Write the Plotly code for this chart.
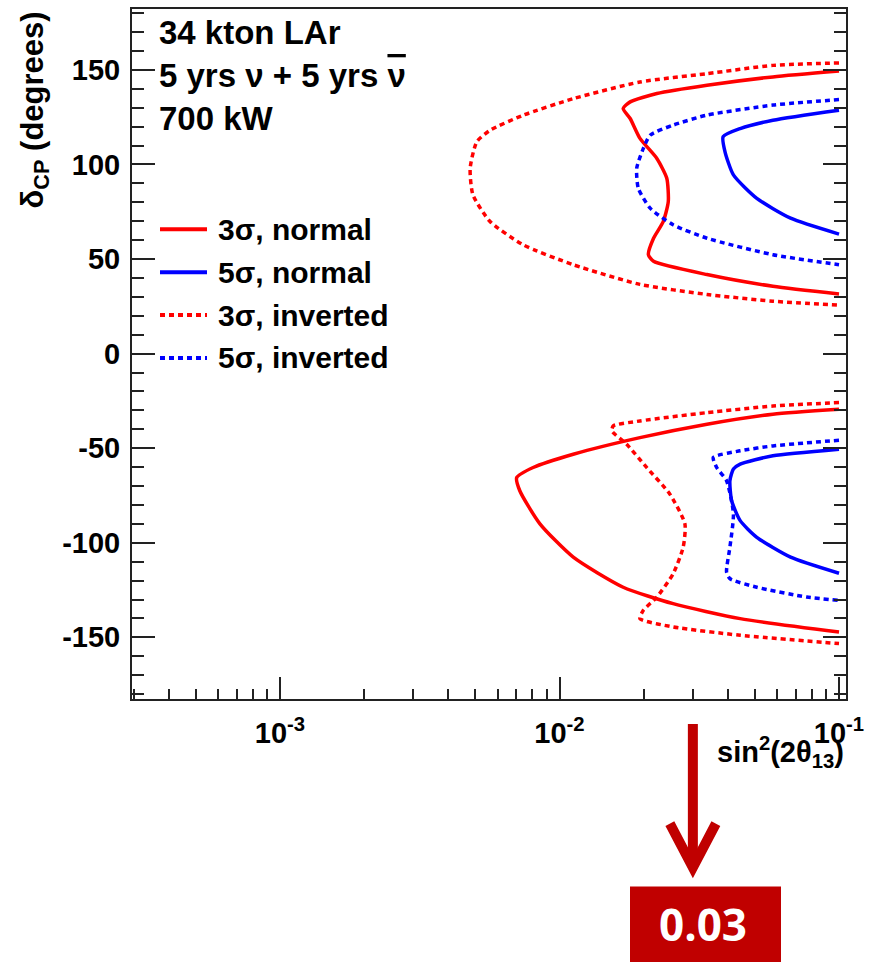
import math
import plotly.graph_objects as go

# --- delta_CP coverage contours vs sin^2(2theta13), upper and lower branches ---
n3_up_x = [0.1, 0.058, 0.0337, 0.0223, 0.0179, 0.0169, 0.0179, 0.0194, 0.0223, 0.0242, 0.0245, 0.0235, 0.0217, 0.0208, 0.0217, 0.0337, 0.058, 0.1]
n3_up_y = [149.4, 146.3, 141.9, 137.5, 133.1, 129.6, 124.3, 113.8, 103.2, 92.7, 80.4, 69.8, 61.0, 52.3, 48.8, 41.8, 35.6, 31.5]
n3_lo_x = [0.1, 0.058, 0.0337, 0.0194, 0.0112, 0.00805, 0.00703, 0.00721, 0.00851, 0.0112, 0.0169, 0.0255, 0.0443, 0.1]
n3_lo_y = [-29.4, -32.0, -37.3, -44.4, -53.2, -60.2, -65.5, -72.5, -90.0, -107.6, -123.5, -132.2, -140.1, -147.2]

n5_up_x = [0.1, 0.058, 0.0443, 0.0385, 0.0391, 0.0419, 0.0508, 0.0671, 0.1]
n5_up_y = [128.7, 123.4, 119.0, 114.7, 106.7, 94.5, 82.1, 71.6, 63.2]
n5_lo_x = [0.1, 0.058, 0.0443, 0.0419, 0.0407, 0.0413, 0.0443, 0.0508, 0.0671, 0.1]
n5_lo_y = [-50.5, -54.0, -58.4, -61.0, -67.2, -77.8, -88.3, -97.1, -107.6, -116.1]

i3_up_x = [0.1, 0.058, 0.0337, 0.0194, 0.0112, 0.0074, 0.00563, 0.00506, 0.00479, 0.0049, 0.00563, 0.0074, 0.0112, 0.0194, 0.0337, 0.058, 0.1]
i3_up_y = [153.7, 152.4, 148.0, 143.6, 134.8, 126.0, 118.0, 112.0, 98.0, 84.0, 70.0, 57.6, 47.0, 36.6, 31.3, 27.7, 25.6]
i3_lo_x = [0.1, 0.058, 0.0337, 0.0194, 0.01558, 0.0154, 0.01739, 0.0205, 0.0248, 0.0281, 0.0277, 0.0255, 0.0223, 0.01995, 0.0194, 0.0255, 0.0443, 0.1]
i3_lo_y = [-25.9, -27.7, -31.2, -35.6, -38.2, -40.9, -47.9, -60.2, -74.2, -90.0, -102.4, -116.4, -128.7, -135.7, -140.1, -144.5, -148.9, -153.3]

i5_up_x = [0.1, 0.058, 0.0337, 0.0255, 0.0211, 0.01995, 0.01889, 0.01914, 0.0211, 0.0255, 0.0337, 0.058, 0.1]
i5_up_y = [134.3, 131.4, 126.1, 120.8, 115.5, 108.5, 98.0, 87.4, 76.9, 68.1, 61.0, 52.3, 47.0]
i5_lo_x = [0.1, 0.058, 0.0443, 0.0355, 0.0365, 0.0396, 0.0419, 0.0407, 0.0396, 0.0407, 0.0508, 0.0766, 0.1]
i5_lo_y = [-45.8, -48.8, -51.4, -54.9, -60.2, -67.2, -84.8, -102.4, -115.5, -119.0, -123.5, -128.7, -130.5]

series_names = ["3σ, normal", "5σ, normal", "3σ, inverted", "5σ, inverted"]
x_tick_vals = [1e-3, 1e-2, 1e-1]
x_tick_text = ["10<sup>-3</sup>", "10<sup>-2</sup>", "10<sup>-1</sup>"]
y_tick_vals = [-150, -100, -50, 0, 50, 100, 150]
y_tick_text = ["-150", "-100", "-50", "0", "50", "100", "150"]
info_lines = [
    "34 kton LAr",
    "5 yrs ν + 5 yrs <span style=\"text-decoration:overline\">ν</span>",
    "700 kW",
]
marked_value = 0.03

RED = "#ff0000"
BLUE = "#0000ff"
DARK_RED = "#c00000"
AXIS = "#222222"
FONT = "Liberation Sans"

X_RANGE = [-3.5295, -0.975]
Y_RANGE = [-182.6, 182.2]

series = [
    (series_names[0], n3_up_x, n3_up_y, n3_lo_x, n3_lo_y, RED, "solid"),
    (series_names[1], n5_up_x, n5_up_y, n5_lo_x, n5_lo_y, BLUE, "solid"),
    (series_names[2], i3_up_x, i3_up_y, i3_lo_x, i3_lo_y, RED, "5px,4px"),
    (series_names[3], i5_up_x, i5_up_y, i5_lo_x, i5_lo_y, BLUE, "5px,4px"),
]

fig = go.Figure()
for name, ux, uy, lx, ly, color, dash in series:
    fig.add_trace(go.Scatter(
        x=ux + [None] + lx, y=uy + [None] + ly, name=name,
        mode="lines",
        line=dict(color=color, width=3.5, dash=dash, shape="spline", smoothing=0.6),
        showlegend=False, hoverinfo="skip",
    ))

W, H = 874, 962
L, R, T, B = 132, 28, 7, 263
PW, PH = W - L - R, H - T - B


def px_x(px):
    return (px - L) / PW


def px_y(py):
    return (H - B - py) / PH


annotations = []
shapes = []

# info text block
for i, line in enumerate(info_lines):
    annotations.append(dict(
        text=line, xref="paper", yref="paper", x=px_x(157), y=px_y(31 + i * 43),
        xanchor="left", yanchor="middle", showarrow=False,
        font=dict(family=FONT, size=33, weight="bold", color="black"),
    ))

# legend block
for i, (name, *_rest, color, dash) in enumerate(series):
    yc = 228 + i * 43
    shapes.append(dict(
        type="line", xref="paper", yref="paper",
        x0=px_x(160), x1=px_x(207), y0=px_y(yc), y1=px_y(yc),
        line=dict(color=color, width=4, dash=dash),
    ))
    annotations.append(dict(
        text=name, xref="paper", yref="paper", x=px_x(216), y=px_y(yc),
        xanchor="left", yanchor="middle", showarrow=False,
        font=dict(family=FONT, size=30, weight="bold", color="black"),
    ))

# axis titles
annotations.append(dict(
    text="δ<sub>CP</sub> (degrees)", xref="paper", yref="paper",
    x=px_x(34), y=px_y(7), xanchor="center", yanchor="top", textangle=-90,
    showarrow=False, font=dict(family=FONT, size=31, weight="bold", color="black"),
))
annotations.append(dict(
    text="sin<sup>2</sup>(2θ<sub>13</sub>)", xref="paper", yref="paper",
    x=px_x(846), y=px_y(752), xanchor="right", yanchor="middle",
    showarrow=False, font=dict(family=FONT, size=29, weight="bold", color="black"),
))

# arrow pointing at the marked value on the x axis
ax_frac = (math.log10(marked_value) - X_RANGE[0]) / (X_RANGE[1] - X_RANGE[0])
shaft_top, tip = px_y(724), px_y(868)
head_dx, head_dy = 23 / PW, 44 / PH
shapes.append(dict(
    type="line", xref="paper", yref="paper", x0=ax_frac, x1=ax_frac,
    y0=shaft_top, y1=tip, line=dict(color=DARK_RED, width=10),
))
shapes.append(dict(
    type="path", xref="paper", yref="paper",
    path=f"M {ax_frac - head_dx} {tip + head_dy} L {ax_frac} {tip} L {ax_frac + head_dx} {tip + head_dy}",
    line=dict(color=DARK_RED, width=10), layer="above",
))

# value box
shapes.append(dict(
    type="rect", xref="paper", yref="paper",
    x0=px_x(630), x1=px_x(781), y0=px_y(887), y1=px_y(975),
    fillcolor=DARK_RED, line=dict(width=0),
))
annotations.append(dict(
    text=f"{marked_value:.2f}", xref="paper", yref="paper",
    x=px_x(703), y=px_y(925), xanchor="center", yanchor="middle", showarrow=False,
    font=dict(family="Open Sans", size=44, weight="bold", color="white"),
))

minor_x = [m * 10 ** e for e in (-4, -3, -2) for m in range(2, 10)]

fig.update_layout(
    width=W, height=H,
    margin=dict(l=L, r=R, t=T, b=B, pad=0),
    paper_bgcolor="white", plot_bgcolor="white",
    showlegend=False,
    annotations=annotations, shapes=shapes,
    xaxis=dict(
        type="log", range=X_RANGE, showgrid=False, zeroline=False,
        showline=True, linecolor=AXIS, linewidth=2, mirror=True,
        tickmode="array", tickvals=x_tick_vals, ticktext=x_tick_text,
        ticks="inside", ticklen=22, tickwidth=1.5, tickcolor=AXIS,
        ticklabelstandoff=7,
        tickfont=dict(family=FONT, size=29, weight="bold", color="black"),
        minor=dict(tickmode="array", tickvals=minor_x, ticks="inside",
                   ticklen=10, tickwidth=1.5, tickcolor=AXIS, showgrid=False),
    ),
    yaxis=dict(
        range=Y_RANGE, showgrid=False, zeroline=False,
        showline=True, linecolor=AXIS, linewidth=2, mirror="ticks",
        tickmode="array", tickvals=y_tick_vals, ticktext=y_tick_text,
        ticks="inside", ticklen=23, tickwidth=1.5, tickcolor=AXIS,
        ticklabelstandoff=4,
        tickfont=dict(family=FONT, size=29, weight="bold", color="black"),
        minor=dict(tickmode="linear", tick0=0, dtick=10, ticks="inside",
                   ticklen=12, tickwidth=1.5, tickcolor=AXIS, showgrid=False),
    ),
)

fig.write_html("out.html")
